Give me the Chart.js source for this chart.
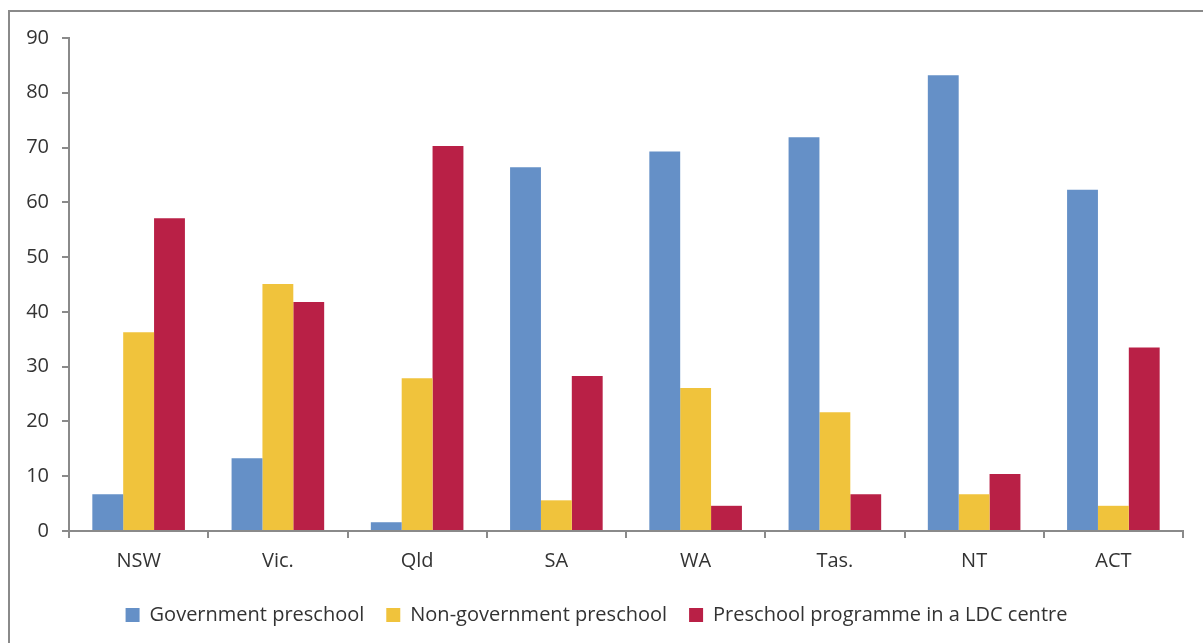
<!DOCTYPE html>
<html>
<head>
<meta charset="utf-8">
<script src="https://cdn.jsdelivr.net/npm/chart.js@4/dist/chart.umd.min.js"></script>
<style>
  html, body { margin: 0; padding: 0; background: #fff; overflow: hidden; }
  #frame {
    position: absolute; left: 8px; top: 10px;
    width: 1300px; height: 700px;
    border: 2px solid #8a8a8a; box-sizing: border-box;
  }
  #wrap { position: absolute; left: 0; top: 0; width: 1203px; height: 643px; }
</style>
</head>
<body>
<div id="frame"></div>
<div id="wrap"><canvas id="chart"></canvas></div>
<script>
// 데이터
const states = ['NSW', 'Vic.', 'Qld', 'SA', 'WA', 'Tas.', 'NT', 'ACT'];
const govPreschool = [6.7, 13.3, 1.6, 66.4, 69.3, 71.9, 83.2, 62.3];
const nonGovPreschool = [36.3, 45.1, 27.9, 5.6, 26.1, 21.7, 6.7, 4.6];
const ldcPreschool = [57.1, 41.8, 70.3, 28.3, 4.6, 6.7, 10.4, 33.5];
const yTicks = [0, 10, 20, 30, 40, 50, 60, 70, 80, 90];

const seriesNames = ['Government preschool', 'Non-government preschool', 'Preschool programme in a LDC centre'];
const seriesColors = ['#6590c7', '#f0c33c', '#b92046'];

const FONT = "'Open Sans', 'Noto Sans', sans-serif";
const axisColor = '#8a8a8a';

function makeDataset(i, values) {
    return {
        label: seriesNames[i],
        data: values,
        backgroundColor: seriesColors[i],
        borderWidth: 0,
        categoryPercentage: 0.665,
        barPercentage: 1.0,
    };
}

const ctx = document.getElementById('chart').getContext('2d');
new Chart(ctx, {
    type: 'bar',
    data: {
        labels: states,
        datasets: [
            makeDataset(0, govPreschool),
            makeDataset(1, nonGovPreschool),
            makeDataset(2, ldcPreschool),
        ],
    },
    options: {
        responsive: true,
        maintainAspectRatio: false,
        animation: false,
        layout: { padding: { left: 10, right: 20, top: 38, bottom: 8 } },
        plugins: {
            tooltip: { enabled: false },
            legend: {
                position: 'bottom',
                labels: {
                    boxWidth: 14,
                    boxHeight: 14,
                    padding: 22,
                    color: '#333',
                    font: { family: FONT, size: 20 },
                },
            },
        },
        scales: {
            x: {
                grid: { drawOnChartArea: false, drawTicks: true, tickLength: 7, color: axisColor, lineWidth: 2 },
                border: { display: true, color: axisColor, width: 2 },
                ticks: { color: '#333', padding: 11, font: { family: FONT, size: 20 } },
                afterFit: s => { s.height = 52; },
            },
            y: {
                min: 0,
                max: 90,
                afterBuildTicks: s => { s.ticks = yTicks.map(v => ({ value: v })); },
                grid: { drawOnChartArea: false, drawTicks: true, tickLength: 7, color: axisColor, lineWidth: 2 },
                border: { display: true, color: axisColor, width: 2 },
                ticks: { color: '#333', padding: 13, font: { family: FONT, size: 20 } },
                afterFit: s => { s.width = 59; },
            },
        },
    },
});
</script>
</body>
</html>
